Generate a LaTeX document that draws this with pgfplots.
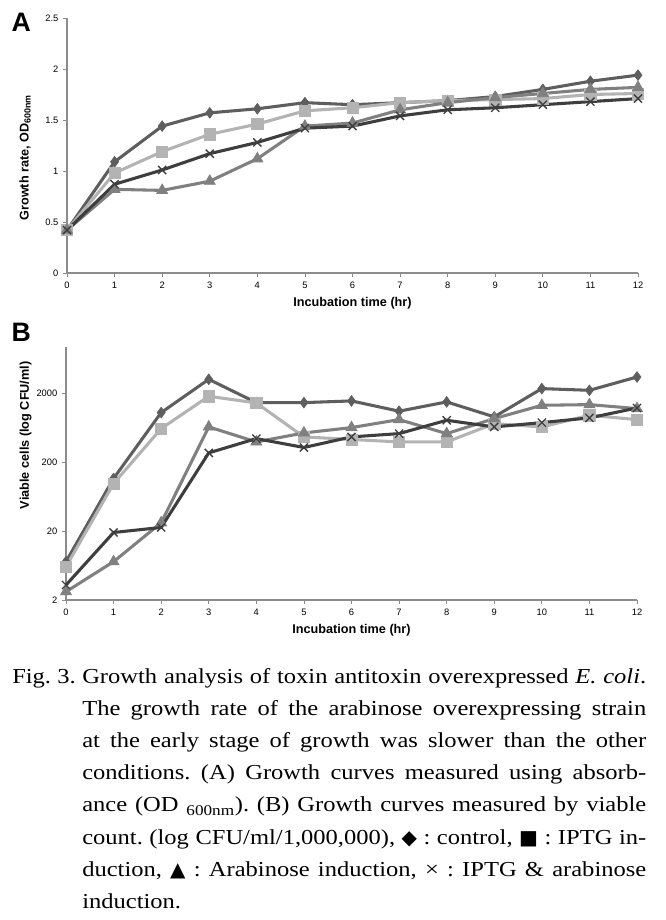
\documentclass[border=0pt]{standalone}
\usepackage{fontspec}
\setmainfont{Liberation Sans}
\newfontfamily\captfont[FakeStretch=1.15]{Liberation Serif}
\newfontfamily\symfont{DejaVu Sans}
\usepackage{pgfplots}
\pgfplotsset{compat=1.18}
\definecolor{cA}{HTML}{5E5E5E}
\definecolor{cB}{HTML}{B3B3B3}
\definecolor{cC}{HTML}{808080}
\definecolor{cD}{HTML}{3E3E3E}
\definecolor{axgray}{HTML}{8C8C8C}
\pgfplotsset{
  common/.style={
    scale only axis, width=428.25pt,
    xmin=0, xmax=12, xtick={0,...,12},
    axis lines*=left,
    axis line style={draw=axgray, line width=0.8pt},
    tick align=outside, major tick length=3pt,
    tick style={draw=axgray, line width=0.6pt},
    minor tick num=0,
    ticklabel style={font=\fontsize{7}{8}\selectfont},
    /pgf/number format/assume math mode=true,
    xlabel={Incubation time (hr)},
    xlabel style={font=\bfseries\fontsize{9.5}{11}\selectfont, at={(axis description cs:0.5,0)}, anchor=center, yshift=-22.5pt},
    ylabel style={font=\bfseries\fontsize{9.5}{11}\selectfont, anchor=center},
    clip=false,
  },
  sA/.style={draw=cA, line width=2.3pt, mark=diamond*, mark size=4pt, mark options={fill=cA, draw=cA, line width=0.5pt}},
  sB/.style={draw=cB, line width=2.3pt, mark=square*, mark size=4.2pt, mark options={fill=cB, draw=cB, line width=0.5pt}},
  sC/.style={draw=cC, line width=2.3pt, mark=triangle*, mark size=4.8pt, mark options={fill=cC, draw=cC, line width=0.5pt}},
  sD/.style={draw=cD, line width=2.3pt, mark=x, mark size=4.3pt, mark options={draw=cD, line width=1pt}},
}
\begin{document}
\begin{tikzpicture}
\useasboundingbox (0,0) rectangle (498.75pt,-690pt);
\node[anchor=base west, inner sep=0pt, font=\bfseries\fontsize{20}{20}\selectfont] at (8.5pt,-24pt) {A};
\node[anchor=base west, inner sep=0pt, font=\bfseries\fontsize{20}{20}\selectfont] at (8.5pt,-255.75pt) {B};
\begin{axis}[common,
  at={(50.25pt,-204.75pt)}, anchor=south west, height=191.25pt,
  ymin=0, ymax=2.5, ytick={0,0.5,1,1.5,2,2.5},
  ylabel={Growth rate, OD\textsubscript{600nm}},
  ylabel style={at={(axis description cs:-0.0735,0.453)}},
]
\addplot[sA] coordinates {(0,0.42) (1,1.09) (2,1.44) (3,1.57) (4,1.61) (5,1.67) (6,1.65) (7,1.67) (8,1.69) (9,1.73) (10,1.80) (11,1.88) (12,1.94)};
\addplot[sB] coordinates {(0,0.42) (1,0.98) (2,1.19) (3,1.36) (4,1.46) (5,1.59) (6,1.62) (7,1.67) (8,1.69) (9,1.70) (10,1.71) (11,1.75) (12,1.76)};
\addplot[sC] coordinates {(0,0.42) (1,0.82) (2,0.81) (3,0.90) (4,1.12) (5,1.44) (6,1.47) (7,1.60) (8,1.67) (9,1.72) (10,1.76) (11,1.80) (12,1.82)};
\addplot[sD] coordinates {(0,0.42) (1,0.87) (2,1.01) (3,1.17) (4,1.28) (5,1.42) (6,1.44) (7,1.54) (8,1.60) (9,1.62) (10,1.65) (11,1.68) (12,1.71)};
\end{axis}
\begin{axis}[common,
  at={(49.5pt,-450pt)}, anchor=south west, height=190pt,
  ymode=log, log basis y=10, ymin=2, ymax=9500,
  ytick={2,20,200,2000}, yticklabels={2,20,200,2000},
  ylabel={Viable cells (log CFU/ml)},
  ylabel style={at={(axis description cs:-0.0705,0.65)}},
]
\addplot[sA] coordinates {(0,7.2) (1,116) (2,1050) (3,3190) (4,1465) (5,1465) (6,1550) (7,1100) (8,1500) (9,910) (10,2340) (11,2210) (12,3450)};
\addplot[sB] coordinates {(0,6.1) (1,98) (2,615) (3,1810) (4,1450) (5,466) (6,427) (7,394) (8,394) (9,726) (10,650) (11,960) (12,830)};
\addplot[sC] coordinates {(0,2.64) (1,7.2) (2,26.4) (3,650) (4,394) (5,532) (6,636) (7,830) (8,520) (9,859) (10,1340) (11,1370) (12,1200)};
\addplot[sD] coordinates {(0,3.3) (1,19.1) (2,22.6) (3,273) (4,440) (5,327) (6,466) (7,520) (8,812) (9,650) (10,751) (11,879) (12,1225)};
\end{axis}
\node[anchor=base west, inner sep=0pt] at (9pt,-512.25pt) {\parbox[t]{475.5pt}{\captfont\fontsize{16}{24.15}\selectfont\frenchspacing
\hangindent=52.5pt\hangafter=1\noindent
\makebox[52.5pt][l]{Fig. 3.}Growth analysis of toxin antitoxin overexpressed \textit{E. coli}.\linebreak
The growth rate of the arabinose overexpressing strain\linebreak
at the early stage of growth was slower than the other\linebreak
conditions. (A) Growth curves measured using absorb-\linebreak
ance (OD \textsubscript{600nm}). (B) Growth curves measured by viable\linebreak
count. (log CFU/ml/1,000,000), {\symfont\fontsize{15}{15}\selectfont◆} : control, {\symfont\fontsize{15}{15}\selectfont■} : IPTG in-\linebreak
duction, {\symfont\fontsize{15}{15}\selectfont▲} : Arabinose induction, \texttimes\ : IPTG \& arabinose\linebreak
induction.\par}};
\end{tikzpicture}
\end{document}
